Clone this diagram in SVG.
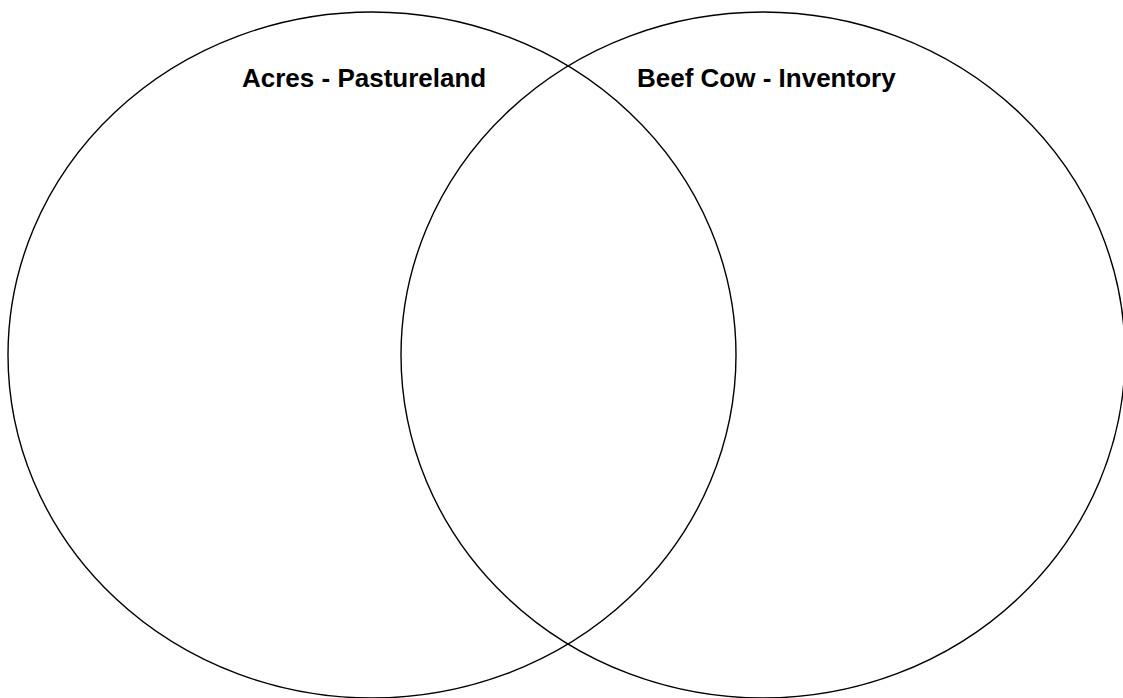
<svg xmlns="http://www.w3.org/2000/svg" width="1123" height="698" viewBox="0 0 1123 698">
<style>
.c{fill:none;stroke:#000;stroke-width:1.4}
.t{font-family:"Liberation Sans",Arial,sans-serif;font-weight:bold;font-size:26px;fill:#000}
</style>
<rect width="1123" height="698" fill="#fff"/>
<g id="set-a">
<ellipse class="c" cx="372" cy="355" rx="364" ry="343"/>
<text class="t" x="242" y="87">Acres - Pastureland</text>
</g>
<g id="set-b">
<ellipse class="c" cx="763" cy="355" rx="362" ry="343"/>
<text class="t" x="637" y="87">Beef Cow - Inventory</text>
</g>
<g id="connectors"/>
</svg>
